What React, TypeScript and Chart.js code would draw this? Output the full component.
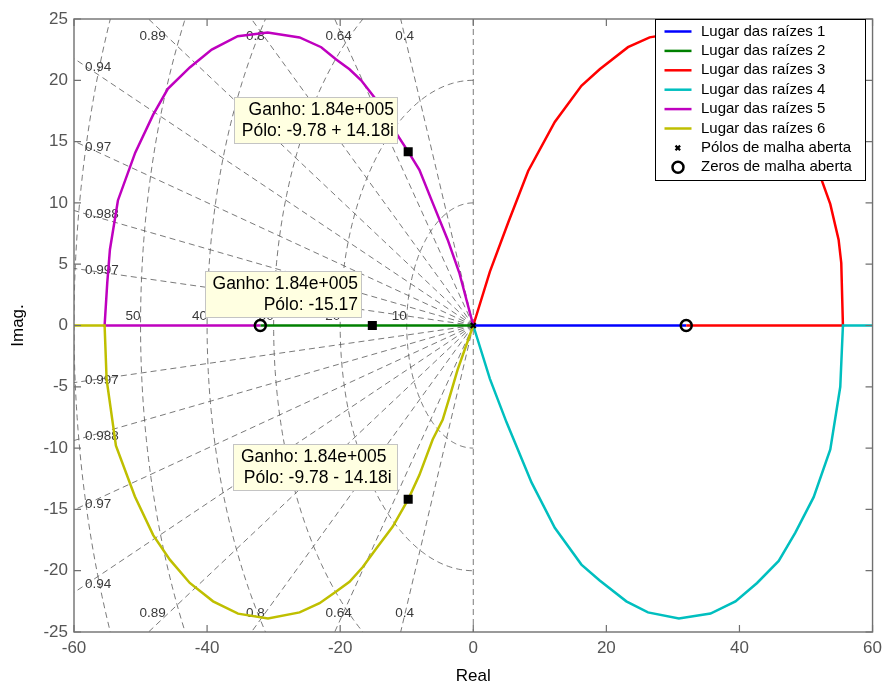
import React, { useEffect, useRef } from "react";
import { Chart, registerables } from "chart.js";

Chart.register(...registerables);

const FONT = "'Liberation Sans', Arial, Helvetica, sans-serif";

// ---------------- data ----------------
const xTickValues = [-60, -40, -20, 0, 20, 40, 60];
const yTickValues = [-25, -20, -15, -10, -5, 0, 5, 10, 15, 20, 25];

// Lugar das raízes 1 (blue)
const branch1X = [0, 32];
const branch1Y = [0, 0];
// Lugar das raízes 2 (green)
const branch2X = [0, -32];
const branch2Y = [0, 0];
// Lugar das raízes 3 (red)
const branch3X = [0, 2.5, 5.25, 8.25, 12.25, 16.25, 19.0, 23.25, 26.5, 30.9, 35.65, 39.4, 42.65, 45.9, 48.4, 51.15, 52.4, 53.65, 54.9, 55.3, 55.55, 32];
const branch3Y = [0, 4.4, 8.4, 12.6, 16.6, 19.55, 20.9, 22.7, 23.5, 23.9, 23.5, 22.5, 21.0, 19.2, 16.9, 14.0, 11.8, 9.9, 7.0, 5.1, 0, 0];
// Lugar das raízes 4 (cyan)
const branch4X = [0, 2.5, 5.0, 8.75, 12.25, 16.25, 19.0, 23.0, 26.25, 30.9, 35.65, 39.4, 42.65, 45.9, 48.4, 51.15, 53.65, 55.15, 55.55, 60];
const branch4Y = [0, -4.35, -7.9, -12.8, -16.5, -19.5, -20.8, -22.5, -23.4, -23.9, -23.5, -22.5, -21.0, -19.2, -16.9, -14.0, -10.1, -5.0, 0, 0];
// Lugar das raízes 5 (magenta)
const branch5X = [0, -2.1, -3.85, -6.1, -8.1, -9.78, -11.6, -14.85, -16.85, -18.6, -20.6, -22.85, -26.1, -30.9, -35.4, -39.3, -42.6, -45.9, -48.1, -50.8, -53.4, -54.6, -55.0, -55.4, -32];
const branch5Y = [0, 4.3, 7.0, 10.0, 12.7, 14.18, 15.7, 18.6, 20.0, 20.9, 21.7, 22.7, 23.5, 23.9, 23.6, 22.5, 21.05, 19.3, 17.2, 14.1, 10.2, 6.2, 3.5, 0, 0];
// Lugar das raízes 6 (olive)
const branch6X = [0, -2.35, -3.6, -4.6, -6.1, -8.1, -9.78, -12.1, -14.6, -16.6, -18.6, -20.6, -23.1, -26.1, -30.85, -35.35, -39.1, -42.6, -45.6, -48.1, -50.85, -53.7, -55.1, -55.4, -60];
const branch6Y = [0, -3.6, -5.9, -7.7, -9.3, -12.2, -14.18, -16.4, -18.2, -19.7, -20.9, -21.7, -22.65, -23.4, -23.9, -23.5, -22.5, -21.0, -19.1, -17.1, -13.95, -9.8, -4.4, 0, 0];

const poleX = [0];
const poleY = [0];
const zeroX = [-32, 32];
const zeroY = [0, 0];

const tipX = [-9.78, -15.17, -9.78];
const tipY = [14.18, 0, -14.18];
const tipGain = [184000, 184000, 184000];

const zetaValues = [0.4, 0.64, 0.8, 0.89, 0.94, 0.97, 0.988, 0.997];
const zetaLabels = ["0.4", "0.64", "0.8", "0.89", "0.94", "0.97", "0.988", "0.997"];
const wnValues = [10, 20, 30, 40, 50, 60];
const wnLabels = ["10", "20", "30", "40", "50", "60"];

const legendLabels = [
  "Lugar das raízes 1",
  "Lugar das raízes 2",
  "Lugar das raízes 3",
  "Lugar das raízes 4",
  "Lugar das raízes 5",
  "Lugar das raízes 6",
  "Pólos de malha aberta",
  "Zeros de malha aberta",
];
const branchColors = ["#0000FF", "#008000", "#FF0000", "#00BFBF", "#BF00BF", "#BFBF00"];

// ---------------- helpers ----------------
const pts = (xs: number[], ys: number[]) => xs.map((v, i) => ({ x: v, y: ys[i] }));

function fmtGain(v: number) {
  const e = Math.floor(Math.log10(v));
  const m = v / Math.pow(10, e);
  return `${m.toFixed(2)}e+${String(e).padStart(3, "0")}`;
}
function fmtPole(x: number, y: number) {
  if (y === 0) return `Pólo: ${x.toFixed(2)}`;
  return `Pólo: ${x.toFixed(2)} ${y < 0 ? "-" : "+"} ${Math.abs(y).toFixed(2)}i`;
}

const sgridPlugin = {
  id: "sgrid",
  beforeDatasetsDraw(chart: any) {
    const { ctx, chartArea: a, scales } = chart;
    const xs = scales.x;
    const ys = scales.y;
    const X = (v: number) => xs.getPixelForValue(v);
    const Y = (v: number) => ys.getPixelForValue(v);
    ctx.save();
    ctx.beginPath();
    ctx.rect(a.left, a.top, a.right - a.left, a.bottom - a.top);
    ctx.clip();
    ctx.strokeStyle = "rgba(90,90,90,0.9)";
    ctx.lineWidth = 0.9;
    ctx.setLineDash([6, 4]);
    wnValues.forEach((wn) => {
      ctx.beginPath();
      const n = 200;
      for (let i = 0; i <= n; i++) {
        const th = Math.PI / 2 + (Math.PI * i) / n;
        const px = X(wn * Math.cos(th));
        const py = Y(wn * Math.sin(th));
        if (i === 0) ctx.moveTo(px, py);
        else ctx.lineTo(px, py);
      }
      ctx.stroke();
    });
    zetaValues.forEach((z) => {
      const s = Math.sqrt(1 - z * z);
      [1, -1].forEach((sg) => {
        ctx.beginPath();
        ctx.moveTo(X(0), Y(0));
        ctx.lineTo(X(-z * 200), Y(sg * s * 200));
        ctx.stroke();
      });
    });
    ctx.beginPath();
    ctx.moveTo(X(0), a.top);
    ctx.lineTo(X(0), a.bottom);
    ctx.stroke();
    ctx.restore();

    // labels
    ctx.save();
    ctx.fillStyle = "#3a3a3a";
    ctx.font = `13.5px ${FONT}`;
    const z0 = Y(0);
    zetaValues.forEach((z, i) => {
      const s = Math.sqrt(1 - z * z);
      const slope = s / z;
      const yAtEdge = -xs.min * slope;
      if (yAtEdge > ys.max) {
        const xi = -ys.max / slope;
        ctx.textAlign = "center";
        ctx.textBaseline = "middle";
        ctx.fillText(zetaLabels[i], X(xi) + 4, a.top + 17);
        ctx.fillText(zetaLabels[i], X(xi) + 4, a.bottom - 18.5);
      } else {
        const py = Y(yAtEdge);
        const pyb = Y(-yAtEdge);
        ctx.textAlign = "left";
        ctx.textBaseline = "middle";
        ctx.fillText(zetaLabels[i], a.left + 11, py + (z0 - py) * 0.03 + 0.5);
        ctx.fillText(zetaLabels[i], a.left + 11, pyb - (pyb - z0) * 0.03 - 0.5);
      }
    });
    wnValues.forEach((wn, i) => {
      if (-wn <= xs.min) return;
      ctx.textAlign = "right";
      ctx.textBaseline = "alphabetic";
      ctx.fillText(wnLabels[i], X(-wn), z0 - 6);
    });
    ctx.restore();
  },
  afterDatasetsDraw(chart: any) {
    const { ctx, chartArea: a, scales } = chart;
    const xs = scales.x;
    const ys = scales.y;
    // axes box and inner ticks
    ctx.save();
    ctx.strokeStyle = "#707070";
    ctx.lineWidth = 1.4;
    ctx.strokeRect(a.left, a.top, a.right - a.left, a.bottom - a.top);
    ctx.lineWidth = 1.2;
    ctx.beginPath();
    xTickValues.forEach((v) => {
      const px = xs.getPixelForValue(v);
      ctx.moveTo(px, a.bottom);
      ctx.lineTo(px, a.bottom - 7);
      ctx.moveTo(px, a.top);
      ctx.lineTo(px, a.top + 7);
    });
    yTickValues.forEach((v) => {
      const py = ys.getPixelForValue(v);
      ctx.moveTo(a.left, py);
      ctx.lineTo(a.left + 7, py);
      ctx.moveTo(a.right, py);
      ctx.lineTo(a.right - 7, py);
    });
    ctx.stroke();
    ctx.restore();

    // data tips
    const tipAlign = ["right", "right", "left"];
    ctx.save();
    ctx.font = `17.5px ${FONT}`;
    tipX.forEach((tx, i) => {
      const mx = xs.getPixelForValue(tx);
      const my = ys.getPixelForValue(tipY[i]);
      const l1 = `Ganho: ${fmtGain(tipGain[i])}`;
      const l2 = (tipAlign[i] === "left" ? " " : "") + fmtPole(tx, tipY[i]);
      const w = Math.max(ctx.measureText(l1).width, ctx.measureText(l2).width);
      const right = Math.round(mx - 11) + 0.5;
      const bottom = Math.round(my - 9) + 0.5;
      const bw = Math.round(w + 11);
      const bh = 46;
      const left = right - bw;
      const top = bottom - bh;
      ctx.fillStyle = "#FFFFE1";
      ctx.fillRect(left, top, bw, bh);
      ctx.strokeStyle = "#C4C4C4";
      ctx.lineWidth = 1;
      ctx.strokeRect(left, top, bw, bh);
      ctx.fillStyle = "#000";
      ctx.textBaseline = "middle";
      if (tipAlign[i] === "right") {
        ctx.textAlign = "right";
        ctx.fillText(l1, right - 3.5, top + 12.5);
        ctx.fillText(l2, right - 3.5, top + 33.5);
      } else {
        ctx.textAlign = "left";
        ctx.fillText(l1, left + 7.5, top + 12.5);
        ctx.fillText(l2, left + 5.5, top + 33.5);
      }
    });
    ctx.restore();

    // legend
    ctx.save();
    const lw = 210;
    const lh = 161;
    const lx = Math.round(a.right - 218) + 0.5;
    const ly = Math.round(a.top) + 0.5;
    ctx.fillStyle = "#fff";
    ctx.fillRect(lx, ly, lw, lh);
    ctx.strokeStyle = "#000";
    ctx.lineWidth = 1;
    ctx.strokeRect(lx, ly, lw, lh);
    ctx.font = `15px ${FONT}`;
    ctx.textAlign = "left";
    ctx.textBaseline = "middle";
    legendLabels.forEach((lab, i) => {
      const cy = ly + 12 + i * 19.4;
      if (i < 6) {
        ctx.strokeStyle = branchColors[i];
        ctx.lineWidth = 2.5;
        ctx.beginPath();
        ctx.moveTo(lx + 9, cy);
        ctx.lineTo(lx + 36, cy);
        ctx.stroke();
      } else if (i === 6) {
        ctx.strokeStyle = "#000";
        ctx.lineWidth = 2.2;
        ctx.beginPath();
        ctx.moveTo(lx + 20, cy - 2.3);
        ctx.lineTo(lx + 24.6, cy + 2.3);
        ctx.moveTo(lx + 24.6, cy - 2.3);
        ctx.lineTo(lx + 20, cy + 2.3);
        ctx.stroke();
      } else {
        ctx.strokeStyle = "#000";
        ctx.lineWidth = 2.5;
        ctx.beginPath();
        ctx.arc(lx + 22.5, cy, 5.5, 0, Math.PI * 2);
        ctx.stroke();
      }
      ctx.fillStyle = "#000";
      ctx.fillText(lab, lx + 45.5, cy);
    });
    ctx.restore();
  },
};

export default function App() {
  const ref = useRef<HTMLCanvasElement | null>(null);
  useEffect(() => {
    if (!ref.current) return;
    const lineDs = (xs: number[], ys: number[], color: string, order: number) => ({
      data: pts(xs, ys),
      borderColor: color,
      backgroundColor: color,
      borderWidth: 2.5,
      pointRadius: 0,
      showLine: true,
      fill: false,
      tension: 0,
      order,
    });
    const chart = new Chart(ref.current, {
      type: "scatter",
      data: {
        datasets: [
          {
            data: pts(tipX, tipY),
            pointStyle: "rect",
            pointRadius: 6.4,
            backgroundColor: "#000",
            borderColor: "#000",
            borderWidth: 0,
            showLine: false,
            order: 0,
          },
          {
            data: pts(zeroX, zeroY),
            pointStyle: "circle",
            pointRadius: 5.5,
            backgroundColor: "rgba(0,0,0,0)",
            borderColor: "#000",
            borderWidth: 2.5,
            showLine: false,
            order: 0,
          },
          {
            data: pts(poleX, poleY),
            pointStyle: "crossRot",
            pointRadius: 3.5,
            borderColor: "#000",
            backgroundColor: "#000",
            borderWidth: 2.2,
            showLine: false,
            order: 0,
          },
          lineDs(branch1X, branch1Y, branchColors[0], 6),
          lineDs(branch2X, branch2Y, branchColors[1], 5),
          lineDs(branch3X, branch3Y, branchColors[2], 4),
          lineDs(branch4X, branch4Y, branchColors[3], 3),
          lineDs(branch5X, branch5Y, branchColors[4], 2),
          lineDs(branch6X, branch6Y, branchColors[5], 1),
        ] as any,
      },
      options: {
        animation: false,
        responsive: false,
        maintainAspectRatio: false,
        devicePixelRatio: 1,
        events: [],
        layout: { padding: { left: 0, top: 19, right: 12, bottom: 0 } },
        plugins: {
          legend: { display: false },
          tooltip: { enabled: false },
        },
        scales: {
          x: {
            type: "linear",
            min: -60,
            max: 60,
            afterFit: (s: any) => {
              s.height = 52;
            },
            afterBuildTicks: (s: any) => {
              s.ticks = xTickValues.map((v) => ({ value: v }));
            },
            grid: { display: false, drawTicks: false },
            border: { display: false },
            ticks: {
              color: "#555",
              font: { size: 17, family: FONT },
              padding: 6,
              maxRotation: 0,
            },
            title: {
              display: true,
              text: "Real",
              color: "#000",
              font: { size: 17, family: FONT },
              padding: { top: 0, bottom: -3 },
            },
          },
          y: {
            type: "linear",
            min: -25,
            max: 25,
            afterFit: (s: any) => {
              s.width = 74;
            },
            afterBuildTicks: (s: any) => {
              s.ticks = yTickValues.map((v) => ({ value: v }));
            },
            grid: { display: false, drawTicks: false },
            border: { display: false },
            ticks: {
              color: "#555",
              font: { size: 17, family: FONT },
              padding: 6,
            },
            title: {
              display: true,
              text: "Imag.",
              color: "#000",
              font: { size: 17, family: FONT },
              padding: { top: 8, bottom: 0 },
            },
          },
        },
      } as any,
      plugins: [sgridPlugin],
    });
    return () => chart.destroy();
  }, []);
  return (
    <div style={{ position: "absolute", left: 0, top: 0, width: 888, height: 684, background: "#fff" }}>
      <canvas ref={ref} width={888} height={684} />
    </div>
  );
}
